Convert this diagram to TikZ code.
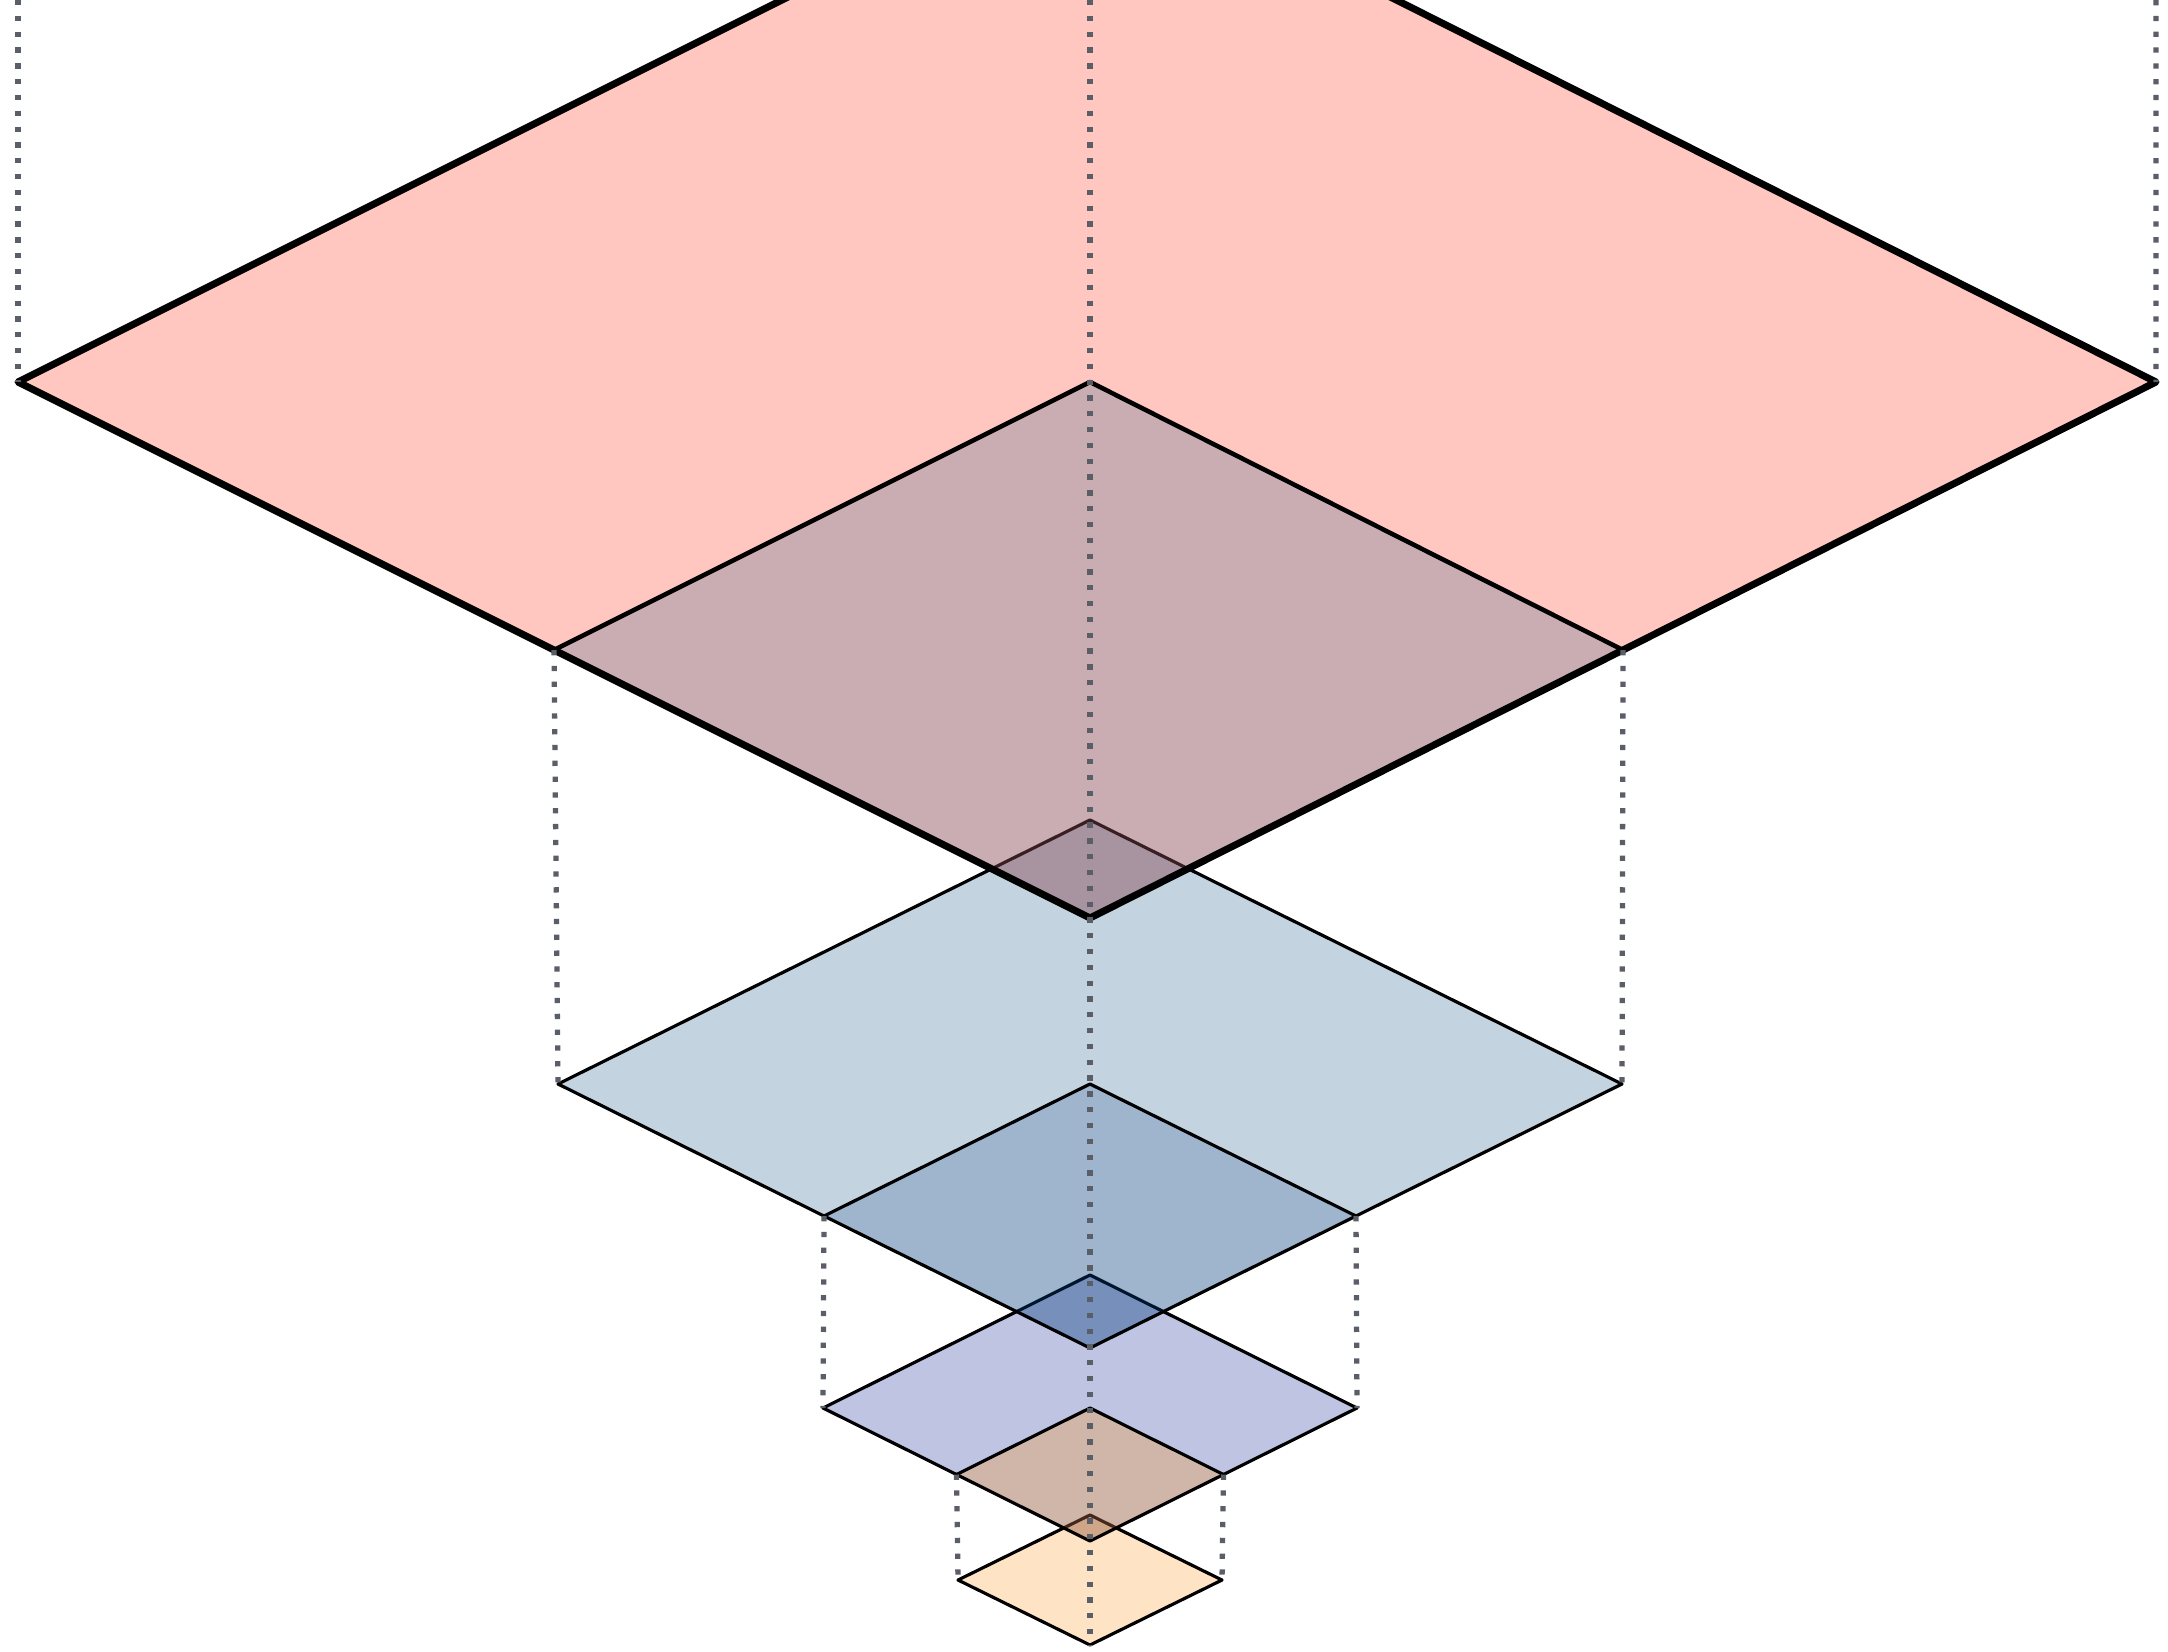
\documentclass[tikz,border=0pt]{standalone}
\usepackage{tikz}
\usetikzlibrary{calc}
\usepackage{xcolor}

\definecolor{pinkout}{RGB}{255,199,191}
\definecolor{pinkin}{RGB}{132,69,80}
\definecolor{blueout}{RGB}{196,211,224}
\definecolor{bluein}{RGB}{2,60,123}
\definecolor{lavout}{RGB}{192,196,227}
\definecolor{brownin}{RGB}{151,93,64}
\definecolor{peachout}{RGB}{254,228,196}
\definecolor{projgray}{RGB}{90,94,102}

\begin{document}
\begin{tikzpicture}[line join=round,
    rim/.style={draw=black, line width=0.9pt},
    toprim/.style={draw=black, line width=2pt},
    proj/.style={draw=projgray, line width=1.5pt, line cap=butt,
                 dash pattern=on 1.5pt off 3pt}]

    \clip (0,0) rectangle (21.68,-16.51);

    % Coordinates (centre, left, right, top, bottom of each level)
    \coordinate (A) at (10.90,-3.82);
    \coordinate (Al) at ($(A)+(-10.72,0)$);
    \coordinate (Ar) at ($(A)+(10.66,0)$);
    \coordinate (At) at ($(A)+(0,5.36)$);
    \coordinate (Ab) at ($(A)+(0,-5.36)$);

    \coordinate (B) at (10.90,-10.84);
    \coordinate (Bl) at ($(B)+(-5.32,0)$);
    \coordinate (Br) at ($(B)+(5.32,0)$);
    \coordinate (Bt) at ($(B)+(0,2.64)$);
    \coordinate (Bb) at ($(B)+(0,-2.64)$);

    \coordinate (C) at (10.90,-14.08);
    \coordinate (Cl) at ($(C)+(-2.67,0)$);
    \coordinate (Cr) at ($(C)+(2.67,0)$);
    \coordinate (Ct) at ($(C)+(0,1.33)$);
    \coordinate (Cb) at ($(C)+(0,-1.33)$);

    \coordinate (D) at (10.90,-15.80);
    \coordinate (Dl) at ($(D)+(-1.32,0)$);
    \coordinate (Dr) at ($(D)+(1.32,0)$);
    \coordinate (Dt) at ($(D)+(0,0.65)$);
    \coordinate (Db) at ($(D)+(0,-0.65)$);

    % Inner quarter of each level
    \coordinate (Ail) at ($(Al)!0.5!(Ab)$);
    \coordinate (Air) at ($(Ar)!0.5!(Ab)$);
    \coordinate (Bil) at ($(Bl)!0.5!(Bb)$);
    \coordinate (Bir) at ($(Br)!0.5!(Bb)$);
    \coordinate (Cil) at ($(Cl)!0.5!(Cb)$);
    \coordinate (Cir) at ($(Cr)!0.5!(Cb)$);

    % Level D (lowest)
    \fill[peachout] (Dt) -- (Dr) -- (Db) -- (Dl) -- cycle;
    \draw[rim] (Dt) -- (Dr) -- (Db) -- (Dl) -- cycle;

    % Level C
    \fill[lavout, even odd rule] (Ct) -- (Cr) -- (Cb) -- (Cl) -- cycle
        (C) -- (Cir) -- (Cb) -- (Cil) -- cycle;
    \fill[brownin, fill opacity=0.45] (C) -- (Cir) -- (Cb) -- (Cil) -- cycle;
    \draw[rim] (Ct) -- (Cr) -- (Cb) -- (Cl) -- cycle;
    \draw[rim] (Cil) -- (C) -- (Cir);

    % Level B
    \fill[blueout, even odd rule] (Bt) -- (Br) -- (Bb) -- (Bl) -- cycle
        (B) -- (Bir) -- (Bb) -- (Bil) -- cycle;
    \fill[bluein, fill opacity=0.38] (B) -- (Bir) -- (Bb) -- (Bil) -- cycle;
    \draw[rim] (Bt) -- (Br) -- (Bb) -- (Bl) -- cycle;
    \draw[rim] (Bil) -- (B) -- (Bir);

    % Level A (top)
    \fill[pinkout, even odd rule] (At) -- (Ar) -- (Ab) -- (Al) -- cycle
        (A) -- (Air) -- (Ab) -- (Ail) -- cycle;
    \fill[pinkin, fill opacity=0.44] (A) -- (Air) -- (Ab) -- (Ail) -- cycle;
    \draw[toprim] (At) -- (Ar) -- (Ab) -- (Al) -- cycle;
    \draw[rim, line width=1.3pt] (Ail) -- (A) -- (Air);

    % ---- Projection lines ----
    \coordinate (Ztop) at (10.90,0);
    \coordinate (Zl) at (0.18,0);
    \coordinate (Zr) at (21.56,0);
    \draw[proj] (Zl) -- (Al);
    \draw[proj] (Zr) -- (Ar);
    \draw[proj] (Ztop) -- (Db);
    \draw[proj] (Ail) -- (Bl);
    \draw[proj] (Air) -- (Br);
    \draw[proj] (Bil) -- (Cl);
    \draw[proj] (Bir) -- (Cr);
    \draw[proj] (Cil) -- (Dl);
    \draw[proj] (Cir) -- (Dr);
\end{tikzpicture}
\end{document}
